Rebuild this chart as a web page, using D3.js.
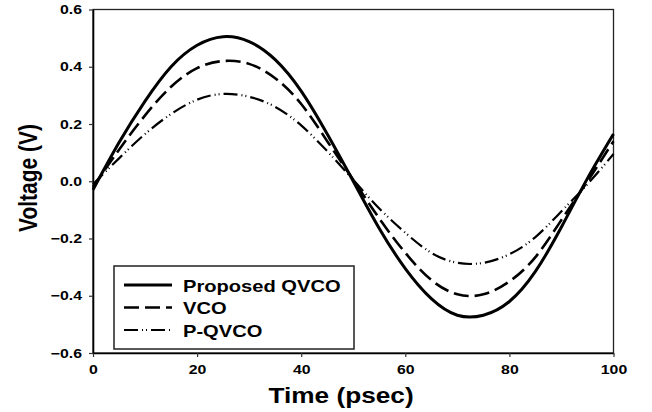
<!DOCTYPE html>
<html>
<head>
<meta charset="utf-8">
<script src="https://cdn.jsdelivr.net/npm/d3@7"></script>
<style>
  body { margin: 0; background: #fff; }
  text { font-family: "Liberation Sans", Arial, sans-serif; font-weight: bold; fill: #000; }
</style>
</head>
<body>
<svg id="chart" width="652" height="412"></svg>
<script>
// time samples (psec)
const times = [0, 5, 10, 15, 20, 25, 30, 35, 40, 45, 50, 55, 60, 65, 70, 75, 80, 85, 90, 95, 100];

// voltages (V)
const proposedQvco = [-0.03, 0.135, 0.28, 0.40, 0.475, 0.505, 0.488, 0.425, 0.315, 0.165, 0.0, -0.165, -0.305, -0.41, -0.468, -0.468, -0.42, -0.315, -0.16, 0.01, 0.165];
const vco = [-0.02, 0.11, 0.23, 0.33, 0.395, 0.42, 0.41, 0.36, 0.27, 0.14, 0.005, -0.13, -0.25, -0.345, -0.395, -0.395, -0.35, -0.265, -0.135, 0.0, 0.14];
const pQvco = [-0.01, 0.08, 0.165, 0.235, 0.285, 0.305, 0.295, 0.26, 0.195, 0.105, 0.005, -0.095, -0.18, -0.25, -0.285, -0.285, -0.255, -0.195, -0.105, -0.01, 0.095];

const seriesNames = ['Proposed QVCO', 'VCO', 'P-QVCO'];
const xTicks = [0, 20, 40, 60, 80, 100];
const yTicks = [-0.6, -0.4, -0.2, 0.0, 0.2, 0.4, 0.6];

const styles = [
    { width: 3, dash: null },
    { width: 2.6, dash: '15,6' },
    { width: 2.2, dash: '14,4,1,3,1,4' }
];

const sx = 1.22; // the original picture is stretched sideways
const margin = { top: 9.5, left: 93, right: 38.5, bottom: 59 };
const W = 652, H = 412;
const iw = W - margin.left - margin.right;
const ih = H - margin.top - margin.bottom;

const svg = d3.select('#chart');
const g = svg.append('g').attr('transform', `translate(${margin.left},${margin.top})`);

const x = d3.scaleLinear().domain([0, 100]).range([0, iw]);
const y = d3.scaleLinear().domain([-0.6, 0.6]).range([ih, 0]);

// frame (top and right sides)
g.append('rect')
    .attr('width', iw).attr('height', ih)
    .attr('fill', 'none').attr('stroke', '#222').attr('stroke-width', 1.3);

const series = [proposedQvco, vco, pQvco];
const line = d3.line()
    .x((d, i) => x(times[i]))
    .y(d => y(d))
    .curve(d3.curveNatural);

series.forEach((vals, k) => {
    g.append('path')
        .attr('d', line(vals))
        .attr('fill', 'none')
        .attr('stroke', '#000')
        .attr('stroke-width', styles[k].width)
        .attr('stroke-dasharray', styles[k].dash);
});

const xaxis = g.append('g')
    .attr('transform', `translate(0,${ih})`)
    .call(d3.axisBottom(x).tickValues(xTicks).tickSize(4).tickPadding(8).tickSizeOuter(0));
const yaxis = g.append('g')
    .call(d3.axisLeft(y).tickValues(yTicks).tickFormat(d3.format('.1f')).tickSize(4).tickSizeOuter(0));

[xaxis, yaxis].forEach(a => {
    a.select('.domain').attr('stroke', '#000').attr('stroke-width', 1.6);
    a.selectAll('.tick line').attr('stroke', '#333').attr('stroke-width', 1.2);
    a.selectAll('.tick text')
        .attr('font-family', '"Liberation Sans", Arial, sans-serif')
        .attr('font-weight', 'bold')
        .attr('font-size', 13)
        .attr('fill', '#000');
});
xaxis.selectAll('.tick text').attr('transform', `scale(${sx},1)`);
yaxis.selectAll('.tick text').attr('x', -11 / sx).attr('transform', `scale(${sx},1)`);

// axis titles
svg.append('text')
    .attr('transform', `translate(341,403) scale(${sx},1)`)
    .attr('text-anchor', 'middle')
    .attr('font-size', 21.5)
    .text('Time (psec)');

svg.append('text')
    .attr('transform', `translate(37,178) scale(${sx},1) rotate(-90)`)
    .attr('text-anchor', 'middle')
    .attr('font-size', 21)
    .text('Voltage (V)');

// legend
const legend = svg.append('g');
legend.append('rect')
    .attr('x', 114).attr('y', 266)
    .attr('width', 240).attr('height', 83)
    .attr('fill', '#fff').attr('stroke', '#222').attr('stroke-width', 1.5);

const rowY = [285, 307.5, 330];
seriesNames.forEach((name, k) => {
    legend.append('line')
        .attr('x1', 124).attr('x2', 172)
        .attr('y1', rowY[k]).attr('y2', rowY[k])
        .attr('stroke', '#000')
        .attr('stroke-width', styles[k].width)
        .attr('stroke-dasharray', styles[k].dash);
    legend.append('text')
        .attr('transform', `translate(183,${rowY[k] + 6.5}) scale(${sx},1)`)
        .attr('font-size', 16.5)
        .text(name);
});
</script>
</body>
</html>
